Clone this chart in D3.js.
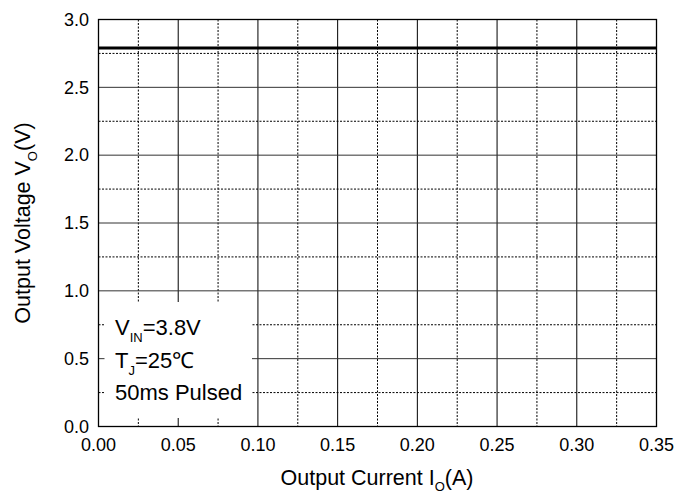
<!DOCTYPE html>
<html><head><meta charset="utf-8">
<script src="https://cdn.jsdelivr.net/npm/d3@7/dist/d3.min.js"></script>
<style>body{margin:0;background:#fff}svg{display:block}text{font-family:Arial,"Liberation Sans",Helvetica,sans-serif;fill:#000}</style>
</head><body><svg id="c" width="691" height="495"></svg>
<script>
const currentA = [0.00, 0.05, 0.10, 0.15, 0.20, 0.25, 0.30, 0.35];
const voltageV = [2.79, 2.79, 2.79, 2.79, 2.79, 2.79, 2.79, 2.79];
const xMajorTicks = [0, 0.05, 0.10, 0.15, 0.20, 0.25, 0.30, 0.35];
const xMinorTicks = [0.025, 0.075, 0.125, 0.175, 0.225, 0.275, 0.325];
const yMajorTicks = [0, 0.5, 1.0, 1.5, 2.0, 2.5, 3.0];
const yMinorTicks = [0.25, 0.75, 1.25, 1.75, 2.25, 2.75];
const legendLines = [["V","IN","=3.8V"],["T","J","=25℃"],["50ms Pulsed","",""]];

const svg = d3.select("#c");
const L=98.5, R=656.5, T=19.5, B=426.5;
const x = d3.scaleLinear().domain([0,0.35]).range([L,R]);
const y = d3.scaleLinear().domain([0,3]).range([B,T]);

const g = svg.append("g");
// minor dotted grid
g.selectAll(".xm").data(xMinorTicks).join("line")
  .attr("x1",d=>x(d)).attr("x2",d=>x(d)).attr("y1",T).attr("y2",B)
  .attr("stroke","#000").attr("stroke-width",1).attr("stroke-dasharray","2,1.5");
g.selectAll(".ym").data(yMinorTicks).join("line")
  .attr("y1",d=>y(d)).attr("y2",d=>y(d)).attr("x1",L).attr("x2",R)
  .attr("stroke","#000").attr("stroke-width",1).attr("stroke-dasharray","2,1.5");
// major solid grid
g.selectAll(".xM").data(xMajorTicks).join("line")
  .attr("x1",d=>x(d)).attr("x2",d=>x(d)).attr("y1",T).attr("y2",B)
  .attr("stroke","#000").attr("stroke-width",1);
g.selectAll(".yM").data(yMajorTicks).join("line")
  .attr("y1",d=>y(d)).attr("y2",d=>y(d)).attr("x1",L).attr("x2",R)
  .attr("stroke","#333").attr("stroke-width",1);

// legend box (white, covering grid)
svg.append("rect").attr("x",L+6).attr("y",302).attr("width",252-(L+6)).attr("height",418-302).attr("fill","#fff");

// frame
svg.append("rect").attr("x",L).attr("y",T).attr("width",R-L).attr("height",B-T)
  .attr("fill","none").attr("stroke","#000").attr("stroke-width",1.3);

// data line
const line = d3.line().x((d,i)=>x(currentA[i])).y(d=>y(d));
svg.append("path").datum(voltageV).attr("d",line).attr("fill","none")
  .attr("stroke","#000").attr("stroke-width",3);

// tick labels
svg.selectAll(".xl").data(xMajorTicks).join("text")
  .attr("x",d=>x(d)).attr("y",451).attr("text-anchor","middle").attr("font-size",18)
  .text(d=>d.toFixed(2));
svg.selectAll(".yl").data(yMajorTicks).join("text")
  .attr("x",89).attr("y",d=>y(d)).attr("dy","0.35em").attr("text-anchor","end").attr("font-size",18)
  .text(d=>d.toFixed(1));

// axis titles
const xt = svg.append("text").attr("x",377).attr("y",485).attr("text-anchor","middle").attr("font-size",21.5);
xt.append("tspan").text("Output Current I");
xt.append("tspan").attr("font-size",13).attr("dy",6).text("O");
xt.append("tspan").attr("dy",-6).text("(A)");

const yt = svg.append("text").attr("transform","translate(30,223) rotate(-90)").attr("text-anchor","middle").attr("font-size",21.5);
yt.append("tspan").text("Output Voltage V");
yt.append("tspan").attr("font-size",13).attr("dy",7).text("O");
yt.append("tspan").attr("dy",-7).text("(V)");

// legend text
const baselines=[335,368,400];
legendLines.forEach((ln,i)=>{
  const t = svg.append("text").attr("x",115).attr("y",baselines[i]).attr("font-size",22);
  t.append("tspan").text(ln[0]);
  if(ln[1]){
    t.append("tspan").attr("font-size",13).attr("dy",7).text(ln[1]);
    t.append("tspan").attr("dy",-7).text(ln[2]);
  }
});
</script></body></html>
